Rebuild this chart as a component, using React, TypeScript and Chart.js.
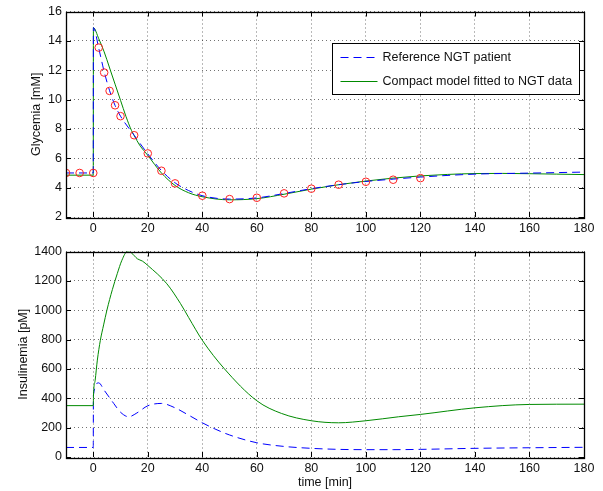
import React, { useEffect, useRef } from "react";
import { Chart, registerables } from "chart.js";

Chart.register(...registerables);

// ---------- data ----------
const X_TICKS = [0, 20, 40, 60, 80, 100, 120, 140, 160, 180];
const GLY_TICKS = [2, 4, 6, 8, 10, 12, 14, 16];
const INS_TICKS = [0, 200, 400, 600, 800, 1000, 1200, 1400];

// Glycemia data points (red circles)
const gObsT = [-10, -5, 0, 2, 4, 6, 8, 10, 15, 20, 25, 30, 40, 50, 60, 70, 80, 90, 100, 110, 120];
const gObsV = [5.0, 5.0, 5.0, 13.54, 11.84, 10.59, 9.61, 8.87, 7.57, 6.33, 5.15, 4.29, 3.45, 3.22, 3.31, 3.61, 3.93, 4.2, 4.4, 4.54, 4.65];

// Glycemia reference NGT patient (blue dashed)
const gRefT = [-10, 0, 0.05, 2, 4, 6, 8, 10, 15, 20, 25, 30, 35, 40, 50, 60, 70, 80, 90, 100, 110, 120, 140, 160, 180];
const gRefV = [5.0, 5.0, 14.9, 13.5, 11.9, 10.6, 9.6, 8.87, 7.57, 6.3, 5.17, 4.33, 3.8, 3.45, 3.22, 3.3, 3.6, 3.93, 4.2, 4.42, 4.58, 4.72, 4.92, 4.99, 5.06];

// Glycemia compact model (green)
const gFitT = [-10, 0, 0.05, 2, 4, 6, 8, 10, 12, 14, 15, 17, 20, 25, 30, 35, 40, 50, 60, 70, 80, 90, 100, 110, 120, 130, 140, 150, 160, 170, 180];
const gFitV = [4.85, 4.85, 14.9, 14.15, 13.25, 12.15, 11.05, 9.95, 8.85, 7.9, 7.55, 6.9, 6.2, 5.0, 4.15, 3.65, 3.38, 3.17, 3.25, 3.55, 3.9, 4.2, 4.45, 4.65, 4.8, 4.9, 4.96, 4.97, 4.95, 4.92, 4.89];

// Insulinemia reference NGT patient (blue dashed)
const iRefT = [-10, 0, 0.05, 2, 4, 7.5, 10, 13, 16, 20, 25, 30, 35, 40, 45, 50, 60, 70, 80, 90, 100, 110, 120, 140, 160, 180];
const iRefV = [65, 65, 420, 505, 455, 365, 305, 274, 300, 349, 365, 335, 285, 233, 188, 150, 97, 72, 59, 52, 50, 50, 52, 59, 63, 66];

// Insulinemia compact model (green)
const iFitT = [-10, 0, 0.1, 0.7, 1.5, 2.6, 3.8, 5, 7, 8.8, 10.5, 12.5, 14, 16.2, 18, 20, 27, 32, 35, 40, 48, 60, 69, 80, 90, 100, 112, 120, 140, 160, 180];
const iFitV = [350, 350, 430, 523, 660, 795, 900, 1000, 1140, 1249, 1340, 1400, 1390, 1350, 1335, 1305, 1180, 1045, 950, 795, 603, 383, 297, 247, 233, 247, 274, 290, 335, 358, 360];

const LEGEND_LABELS = ["Reference NGT patient", "Compact model fitted to NGT data"];

// ---------- styles ----------
const FONT = "'Liberation Sans', Arial, Helvetica, sans-serif";
const BLUE = "#0000ff";
const GREEN = "#008a00";
const RED = "#ff2020";
const TEXT = "#111";

const pts = (t: number[], v: number[]) => t.map((x, i) => ({ x, y: v[i] }));

const boxPlugin = {
  id: "matlabBox",
  afterDraw(chart: any) {
    const { ctx, chartArea } = chart;
    const { left, right, top, bottom } = chartArea;
    const xs = chart.scales.x;
    const ys = chart.scales.y;
    ctx.save();
    ctx.strokeStyle = "#000";
    ctx.lineWidth = 1;
    const tl = 5;
    ctx.beginPath();
    xs.ticks.forEach((t: any) => {
      const px = Math.round(xs.getPixelForValue(t.value)) + 0.5;
      ctx.moveTo(px, bottom);
      ctx.lineTo(px, bottom - tl);
      ctx.moveTo(px, top);
      ctx.lineTo(px, top + tl);
    });
    ys.ticks.forEach((t: any) => {
      const py = Math.round(ys.getPixelForValue(t.value)) + 0.5;
      ctx.moveTo(left, py);
      ctx.lineTo(left + tl, py);
      ctx.moveTo(right, py);
      ctx.lineTo(right - tl, py);
    });
    ctx.stroke();
    ctx.lineWidth = 1.3;
    ctx.strokeRect(Math.round(left) + 0.5, Math.round(top) + 0.5, Math.round(right - left), Math.round(bottom - top));
    ctx.restore();

    const lg = chart.options.plugins.boxLegend;
    if (lg && lg.display) {
      const items = chart.data.datasets.filter((d: any) => d.legendLabel);
      ctx.save();
      ctx.font = `12.5px ${FONT}`;
      let tw = 0;
      items.forEach((d: any) => (tw = Math.max(tw, ctx.measureText(d.legendLabel).width)));
      const w = 8 + 37 + 5 + tw + 7;
      const h = 51;
      const bx = Math.round(right - 5 - w) + 0.5;
      const by = Math.round(top + 31) + 0.5;
      ctx.fillStyle = "#fff";
      ctx.fillRect(bx, by, w, h);
      ctx.strokeStyle = "#000";
      ctx.lineWidth = 1;
      ctx.strokeRect(bx, by, Math.round(w), h);
      items.forEach((d: any, i: number) => {
        const cy = by + 14 + i * 24;
        ctx.strokeStyle = d.borderColor;
        ctx.lineWidth = d.borderWidth;
        ctx.setLineDash(d.borderDash || []);
        ctx.beginPath();
        ctx.moveTo(bx + 8, cy);
        ctx.lineTo(bx + 45, cy);
        ctx.stroke();
        ctx.setLineDash([]);
        ctx.fillStyle = TEXT;
        ctx.textBaseline = "middle";
        ctx.textAlign = "left";
        ctx.fillText(d.legendLabel, bx + 50, cy);
      });
      ctx.restore();
    }
  },
};

function makeOptions(cfg: {
  yMin: number;
  yMax: number;
  yTicks: number[];
  yTitle: string;
  yTitlePad: number;
  xTitle: string;
  xHeight: number;
  legend: boolean;
}) {
  return {
    responsive: false,
    animation: false,
    layout: { padding: { top: 11, right: 19, left: 0, bottom: 0 } },
    plugins: {
      legend: { display: false },
      tooltip: { enabled: false },
      boxLegend: { display: cfg.legend },
    },
    scales: {
      x: {
        type: "linear",
        min: -10,
        max: 180,
        afterBuildTicks: (s: any) => {
          s.ticks = X_TICKS.map((v) => ({ value: v }));
        },
        afterFit: (s: any) => {
          s.height = cfg.xHeight;
        },
        ticks: {
          color: TEXT,
          font: { family: FONT, size: 12.5 },
          padding: 4,
          maxRotation: 0,
          callback: (v: any) => String(v),
        },
        grid: { color: "rgba(0,0,0,0.55)", lineWidth: 1, drawTicks: false },
        border: { display: false, dash: [1, 3] },
        title: {
          display: !!cfg.xTitle,
          text: cfg.xTitle,
          color: TEXT,
          font: { family: FONT, size: 12.5 },
          padding: { top: 0, bottom: 1 },
        },
      },
      y: {
        type: "linear",
        min: cfg.yMin,
        max: cfg.yMax,
        afterBuildTicks: (s: any) => {
          s.ticks = cfg.yTicks.map((v) => ({ value: v }));
        },
        afterFit: (s: any) => {
          s.width = 66;
        },
        ticks: {
          color: TEXT,
          font: { family: FONT, size: 12.5 },
          padding: 4,
          callback: (v: any) => String(v),
        },
        grid: { color: "rgba(0,0,0,0.55)", lineWidth: 1, drawTicks: false },
        border: { display: false, dash: [1, 3] },
        title: {
          display: true,
          text: cfg.yTitle,
          color: TEXT,
          font: { family: FONT, size: 12.5 },
          padding: { top: cfg.yTitlePad, bottom: 0 },
        },
      },
    },
  } as any;
}

export default function App() {
  const topRef = useRef<HTMLCanvasElement>(null);
  const botRef = useRef<HTMLCanvasElement>(null);

  useEffect(() => {
    const top = new Chart(topRef.current as HTMLCanvasElement, {
      type: "line",
      data: {
        datasets: [
          {
            label: "ref",
            legendLabel: LEGEND_LABELS[0],
            data: pts(gRefT, gRefV),
            borderColor: BLUE,
            borderWidth: 1,
            borderDash: [8, 5],
            pointRadius: 0,
            cubicInterpolationMode: "monotone",
            fill: false,
            order: 1,
          },
          {
            label: "fit",
            legendLabel: LEGEND_LABELS[1],
            data: pts(gFitT, gFitV),
            borderColor: GREEN,
            borderWidth: 1,
            pointRadius: 0,
            cubicInterpolationMode: "monotone",
            fill: false,
            order: 2,
          },
          {
            label: "data",
            data: pts(gObsT, gObsV),
            showLine: false,
            pointRadius: 3.8,
            pointBorderWidth: 1,
            pointBorderColor: RED,
            pointBackgroundColor: "rgba(0,0,0,0)",
            borderColor: RED,
            order: 0,
          },
        ],
      } as any,
      options: makeOptions({
        yMin: 2,
        yMax: 16,
        yTicks: GLY_TICKS,
        yTitle: "Glycemia [mM]",
        yTitlePad: 29,
        xTitle: "",
        xHeight: 23,
        legend: true,
      }),
      plugins: [boxPlugin],
    });

    const bot = new Chart(botRef.current as HTMLCanvasElement, {
      type: "line",
      data: {
        datasets: [
          {
            label: "fit",
            data: pts(iFitT, iFitV),
            borderColor: GREEN,
            borderWidth: 1,
            pointRadius: 0,
            cubicInterpolationMode: "monotone",
            fill: false,
          },
          {
            label: "ref",
            data: pts(iRefT, iRefV),
            borderColor: BLUE,
            borderWidth: 1,
            borderDash: [8, 5],
            pointRadius: 0,
            cubicInterpolationMode: "monotone",
            fill: false,
          },
        ],
      } as any,
      options: makeOptions({
        yMin: 0,
        yMax: 1400,
        yTicks: INS_TICKS,
        yTitle: "Insulinemia [pM]",
        yTitlePad: 16,
        xTitle: "time [min]",
        xHeight: 34,
        legend: false,
      }),
      plugins: [boxPlugin],
    });

    return () => {
      top.destroy();
      bot.destroy();
    };
  }, []);

  return (
    <div style={{ position: "fixed", left: 0, top: 0, width: 603, height: 491, background: "#fff" }}>
      <canvas
        ref={topRef}
        width={603}
        height={240}
        style={{ position: "absolute", left: 0, top: 0, width: 603, height: 240 }}
      />
      <canvas
        ref={botRef}
        width={603}
        height={251}
        style={{ position: "absolute", left: 0, top: 240, width: 603, height: 251 }}
      />
    </div>
  );
}
